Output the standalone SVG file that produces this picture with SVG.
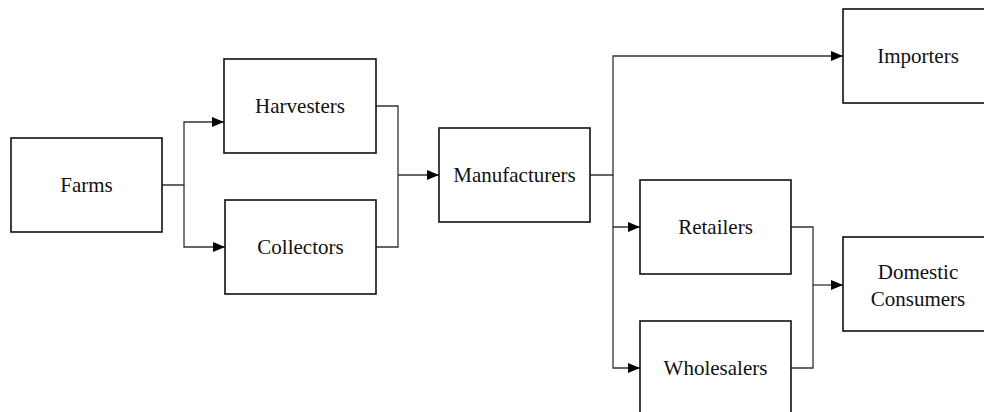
<svg xmlns="http://www.w3.org/2000/svg" width="984" height="412" viewBox="0 0 984 412">
<style>
.box{fill:#fff;stroke:#111;stroke-width:1.6}
.lbl{font-family:'Liberation Serif','Times New Roman','DejaVu Serif',serif;font-size:21px;fill:#111;text-anchor:middle}
.con{fill:none;stroke:#333;stroke-width:1.3}
</style>
<defs>
<marker id="ah" markerUnits="userSpaceOnUse" markerWidth="12" markerHeight="12" viewBox="0 0 12 12" refX="12" refY="6" orient="auto">
<path d="M0,1 L12,6 L0,11 Z" fill="#000"/>
</marker>
</defs>
<rect width="984" height="412" fill="#fff"/>
<g id="connectors">
<path class="con" d="M162,185 H184 V122 H224" marker-end="url(#ah)"/>
<path class="con" d="M184,185 V247 H225" marker-end="url(#ah)"/>
<path class="con" d="M376,106 H398 V247 H376"/>
<path class="con" d="M398,175 H439" marker-end="url(#ah)"/>
<path class="con" d="M590,175 H613 V56 H843" marker-end="url(#ah)"/>
<path class="con" d="M613,175 V227 H640" marker-end="url(#ah)"/>
<path class="con" d="M613,227 V368 H640" marker-end="url(#ah)"/>
<path class="con" d="M791,227 H813 V368 H791"/>
<path class="con" d="M813,285 H843" marker-end="url(#ah)"/>
</g>
<g id="farms"><rect class="box" x="11" y="138" width="151" height="94"/><text class="lbl" font-family="Liberation Serif, serif" x="86.5" y="192">Farms</text></g>
<g id="harvesters"><rect class="box" x="224" y="59" width="152" height="94"/><text class="lbl" font-family="Liberation Serif, serif" x="300" y="113">Harvesters</text></g>
<g id="collectors"><rect class="box" x="225" y="200" width="151" height="94"/><text class="lbl" font-family="Liberation Serif, serif" x="300.5" y="254">Collectors</text></g>
<g id="manufacturers"><rect class="box" x="439" y="128" width="151" height="94"/><text class="lbl" font-family="Liberation Serif, serif" x="514.5" y="182">Manufacturers</text></g>
<g id="importers"><rect class="box" x="843" y="9" width="150" height="94"/><text class="lbl" font-family="Liberation Serif, serif" x="918" y="63">Importers</text></g>
<g id="retailers"><rect class="box" x="640" y="180" width="151" height="94"/><text class="lbl" font-family="Liberation Serif, serif" x="715.5" y="234">Retailers</text></g>
<g id="wholesalers"><rect class="box" x="640" y="321" width="151" height="94"/><text class="lbl" font-family="Liberation Serif, serif" x="715.5" y="375">Wholesalers</text></g>
<g id="domestic-consumers"><rect class="box" x="843" y="237" width="150" height="94"/><text class="lbl" font-family="Liberation Serif, serif" x="918" y="279">Domestic</text><text class="lbl" font-family="Liberation Serif, serif" x="918" y="306">Consumers</text></g>
</svg>
